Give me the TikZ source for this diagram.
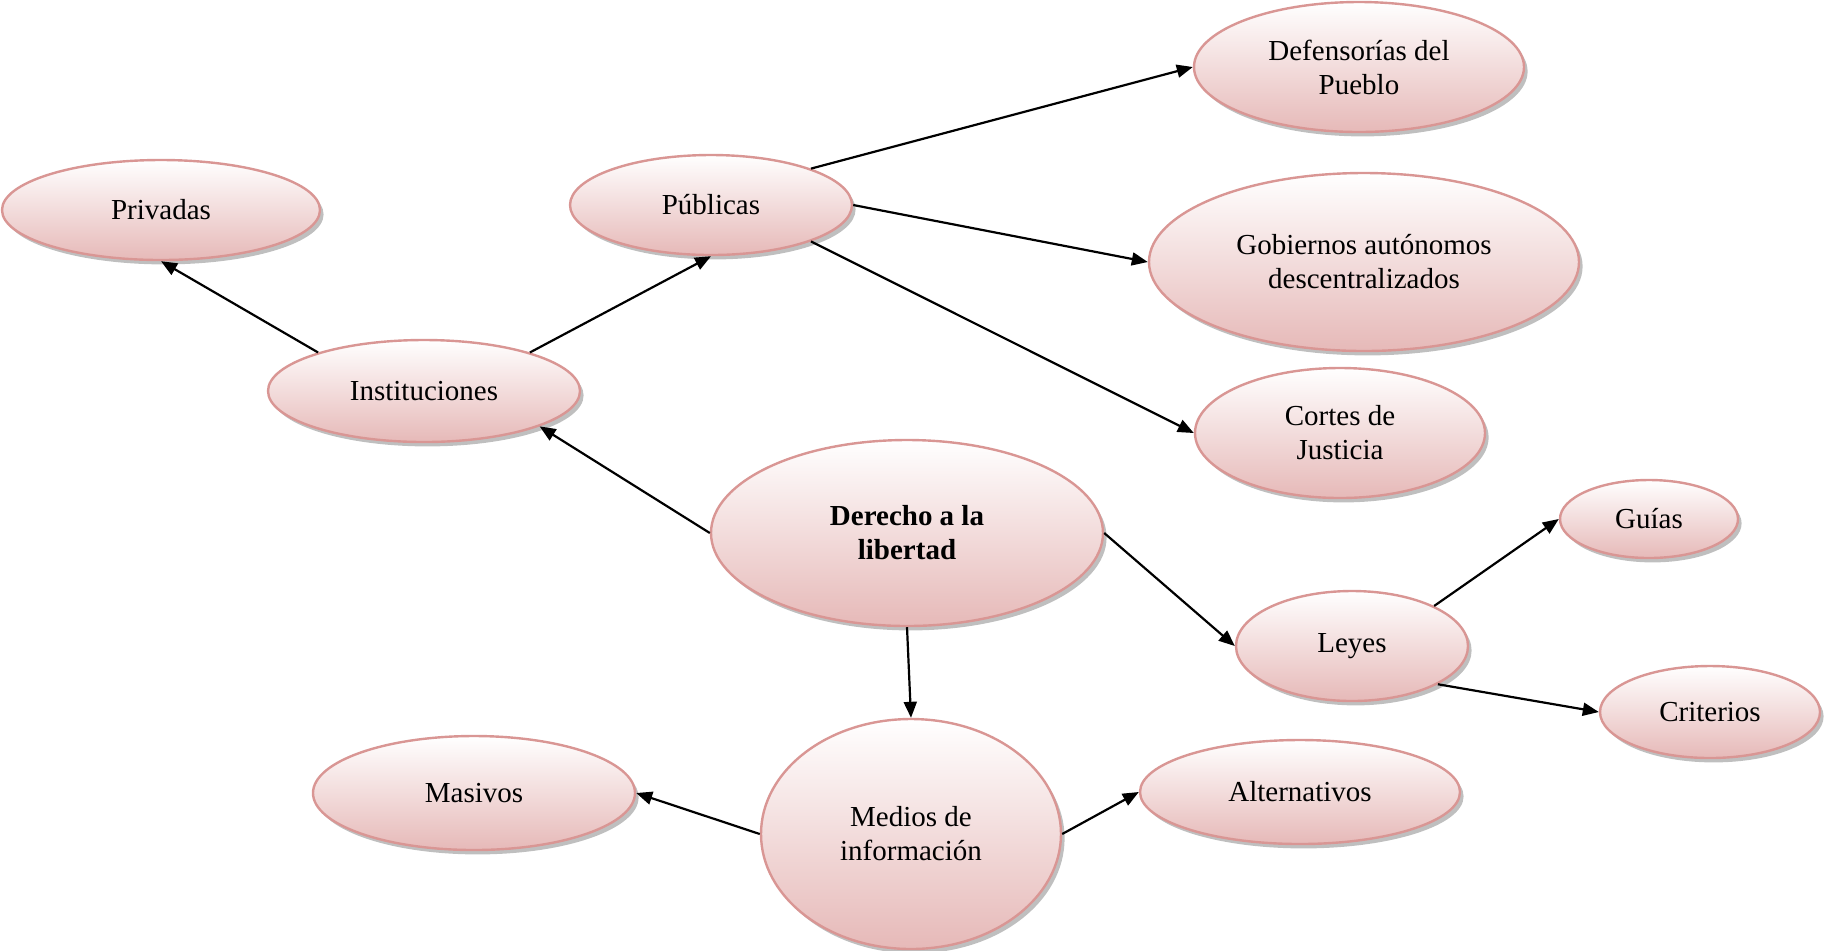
\documentclass[tikz,border=0pt]{standalone}
\usepackage{fontspec}
\setmainfont{Liberation Serif}
\usetikzlibrary{arrows.meta,positioning,shapes.geometric,shadows}
\definecolor{rosa}{RGB}{217,150,148}
\definecolor{rosaclaro}{RGB}{230,185,184}

\begin{document}
\begin{tikzpicture}[x=0.5pt,y=-0.5pt]
      \tikzstyle{n}=[ellipse,draw=rosa,line width=1.2pt,top color=white,bottom color=rosaclaro,drop shadow={shadow xshift=1.8pt,shadow yshift=-2.2pt,fill=black!50,opacity=0.5},inner sep=1pt,align=center,font=\fontsize{14.5}{17}\selectfont]
      \tikzstyle{a}=[-{Triangle[length=8pt,width=6.5pt]},line width=1.1pt]
      \useasboundingbox (0,0) rectangle (1825,950);
      \node[n,minimum width=196pt,minimum height=93pt,font=\fontsize{14.5}{17}\selectfont\bfseries] (der) at (907,533) {Derecho a la\\libertad};
      \node[n,minimum width=156pt,minimum height=51pt] (inst) at (424,391) {Instituciones};
      \node[n,minimum width=159pt,minimum height=50pt] (priv) at (161,210) {Privadas};
      \node[n,minimum width=141pt,minimum height=50pt] (pub) at (711,205) {Públicas};
      \node[n,minimum width=165pt,minimum height=65pt] (def) at (1359,67) {Defensorías del\\Pueblo};
      \node[n,minimum width=215pt,minimum height=89pt] (gob) at (1364,262) {Gobiernos autónomos\\descentralizados};
      \node[n,minimum width=145pt,minimum height=65pt] (cor) at (1340,433) {Cortes de\\Justicia};
      \node[n,minimum width=116pt,minimum height=55pt] (ley) at (1352,646) {Leyes};
      \node[n,minimum width=89pt,minimum height=39pt] (gui) at (1649,519) {Guías};
      \node[n,minimum width=110pt,minimum height=46pt] (cri) at (1710,712) {Criterios};
      \node[n,minimum width=150pt,minimum height=115pt] (med) at (911,834) {Medios de\\información};
      \node[n,minimum width=161pt,minimum height=57pt] (mas) at (474,793) {Masivos};
      \node[n,minimum width=160pt,minimum height=52pt] (alt) at (1300,792) {Alternativos};
      \draw[a] (der.west) -- (inst.-17);
      \draw[a] (inst.160) -- (priv.south);
      \draw[a] (inst.20) -- (pub.south);
      \draw[a] (pub.20) -- (def.west);
      \draw[a] (pub.east) -- (gob.west);
      \draw[a] (pub.-20) -- (cor.west);
      \draw[a] (der.east) -- (ley.west);
      \draw[a] (ley.26) -- (gui.west);
      \draw[a] (ley.-24) -- (cri.west);
      \draw[a] (der.south) -- (med.north);
      \draw[a] (med.west) -- (mas.east);
      \draw[a] (med.east) -- (alt.west);
    \end{tikzpicture}
\end{document}
